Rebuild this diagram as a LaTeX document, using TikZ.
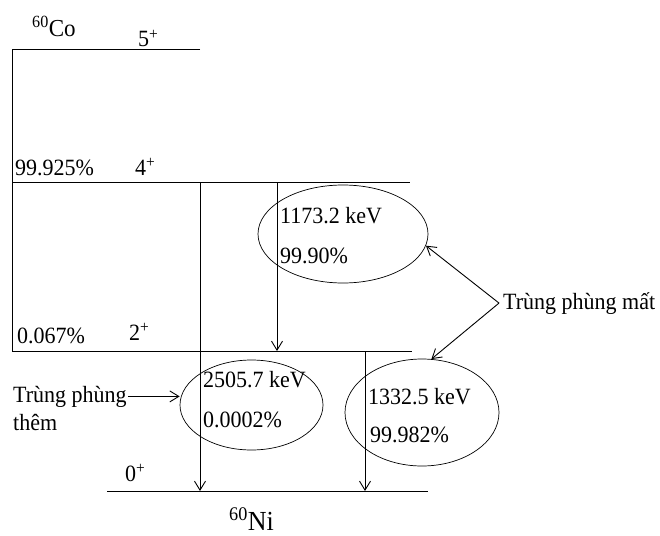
\documentclass[tikz,border=0pt]{standalone}
\usepackage{fontspec}
\setmainfont{Liberation Serif}
\usetikzlibrary{arrows.meta,shapes.geometric}
\begin{document}
\begin{tikzpicture}[x=1pt,y=-1pt,
  lvl/.style={line width=0.9pt},
  gam/.style={line width=0.9pt,-{Straight Barb[length=9pt,width=11pt]}},
  txt/.style={inner sep=0pt,anchor=base west,font=\fontsize{22}{26}\selectfont,yscale=1.06,transform shape},
  ell/.style={draw,ellipse,inner sep=0pt,line width=0.7pt}]
\useasboundingbox (0,0) rectangle (660,535);
% levels
\coordinate (L5a) at (12,49);
\coordinate (L5b) at (200,49);
\coordinate (L4a) at (12,182);
\coordinate (L4b) at (410,182);
\coordinate (L2a) at (12,351);
\coordinate (L2b) at (412,351);
\coordinate (L0a) at (107,491);
\coordinate (L0b) at (428,491);
\draw[lvl] (L5b) -- (L5a) -- (L2a) -- (L2b);
\draw[lvl] (L4a) -- (L4b);
\draw[lvl] (L0a) -- (L0b);
% gamma transitions
\coordinate (g1s) at (200,182);
\coordinate (g1e) at (200,491);
\coordinate (g2s) at (277,182);
\coordinate (g2e) at (277,351);
\coordinate (g3s) at (365,351);
\coordinate (g3e) at (365,491);
\draw[gam] (g1s) -- (g1e);
\draw[gam] (g2s) -- (g2e);
\draw[gam] (g3s) -- (g3e);
% ellipses
\node[ell,minimum width=170pt,minimum height=98pt] (e1) at (343,234) {};
\node[ell,minimum width=143pt,minimum height=90pt] (e2) at (251.5,405) {};
\node[ell,minimum width=154pt,minimum height=107pt] (e3) at (422,412.5) {};
% level labels
\node[txt,font=\fontsize{23}{27}\selectfont] (co) at (32,37) {\textsuperscript{60}Co};
\node[txt] (s5) at (138,47) {5\textsuperscript{+}};
\node[txt] (p4) at (15,175) {99.925\%};
\node[txt] (s4) at (135,175) {4\textsuperscript{+}};
\node[txt] (p2) at (17,343) {0.067\%};
\node[txt] (s2) at (129,340) {2\textsuperscript{+}};
\node[txt] (s0) at (125,481) {0\textsuperscript{+}};
\node[txt,font=\fontsize{26}{30}\selectfont] (ni) at (229,530) {\textsuperscript{60}Ni};
% ellipse texts
\node[txt] (t1a) at (280,223) {1173.2 keV};
\node[txt] (t1b) at (280,263) {99.90\%};
\node[txt] (t2a) at (203,387) {2505.7 keV};
\node[txt] (t2b) at (203,427) {0.0002\%};
\node[txt] (t3a) at (368,404) {1332.5 keV};
\node[txt] (t3b) at (370,442) {99.982\%};
% annotations
\node[txt] (tpm) at (503,309) {Trùng phùng mất};
\coordinate (tpmo) at ([xshift=-4pt]tpm.west);
\draw[gam] (tpmo) -- (e1.-8);
\draw[gam] (tpmo) -- (e3.80);
\node[txt] (tp1) at (13,402) {Trùng phùng};
\node[txt] (tp2) at (13,430) {thêm};
\draw[gam] ([xshift=1pt]tp1.east) -- (e2.west |- tp1.east);
\end{tikzpicture}
\end{document}
